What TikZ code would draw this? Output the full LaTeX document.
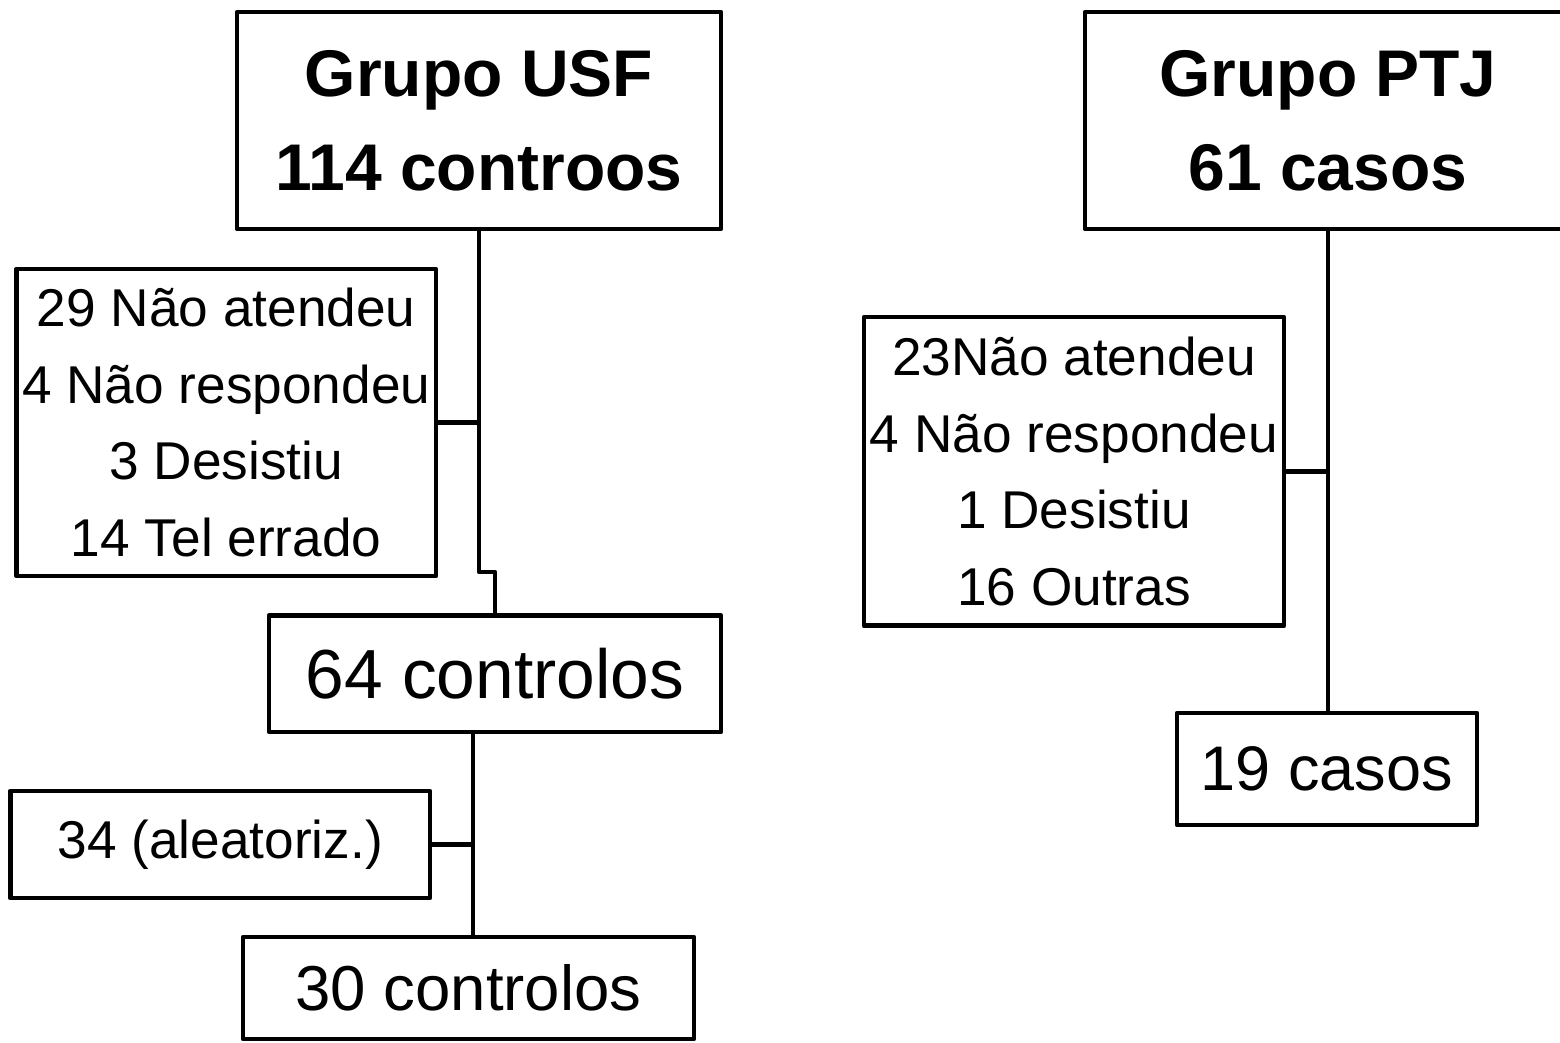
\documentclass[tikz,border=0pt]{standalone}
\usepackage{fontspec}
\setmainfont{Liberation Sans}
\begin{document}
\begin{tikzpicture}[x=1pt,y=-1pt,
  box/.style={draw=black,line width=4.8pt,line join=round,inner sep=0pt,align=center,rectangle},
  conn/.style={draw=black,line width=4.8pt,line join=round},
  titlefont/.style={font=\fontsize{66}{94}\bfseries\selectfont},
  smallfont/.style={font=\fontsize{53.2}{76.5}\selectfont}]
\fill[white] (0,0) rectangle (1560,1042);
\useasboundingbox (0,0) rectangle (1560,1042);

\node[box,titlefont,minimum width=484pt,minimum height=217pt] (usf) at (479,120.5) {Grupo USF\\114 controos};
\node[box,titlefont,minimum width=486pt,minimum height=217pt] (ptj) at (1328,120.5) {Grupo PTJ\\61 casos};

\node[box,smallfont,minimum width=419.5pt,minimum height=307pt] (usfx) at (226.25,422.5) {29 Não atendeu\\4 Não respondeu\\3 Desistiu\\14 Tel errado};
\node[box,font=\fontsize{69.5}{80}\selectfont,minimum width=452pt,minimum height=116.5pt] (c64) at (495,673.75) {64 controlos};
\node[box,smallfont,minimum width=419.6pt,minimum height=107pt] (al34) at (220.2,844.5) {34 (aleatoriz.)};
\node[box,font=\fontsize{63.5}{75}\selectfont,minimum width=451pt,minimum height=102pt] (c30) at (468.5,988) {30 controlos};

\node[box,smallfont,minimum width=420pt,minimum height=308.6pt] (ptjx) at (1074,471.3) {23Não atendeu\\4 Não respondeu\\1 Desistiu\\16 Outras};
\node[box,font=\fontsize{63}{75}\selectfont,minimum width=300pt,minimum height=112pt] (c19) at (1327,769) {19 casos};

\coordinate (jog) at (479,572);
\coordinate (t2) at (473,732);

\draw[conn] (usf.south) -- (jog) -- (jog -| c64.north) -- (c64.north);
\draw[conn] (usfx.east) -- (usfx.east -| usf.south);
\draw[conn] (c64.south -| t2) -- (c30.north -| t2);
\draw[conn] (al34.east) -- (al34.east -| t2);
\draw[conn] (ptj.south) -- (ptj.south |- c19.north);
\draw[conn] (ptjx.east) -- (ptjx.east -| ptj.south);
\end{tikzpicture}
\end{document}
